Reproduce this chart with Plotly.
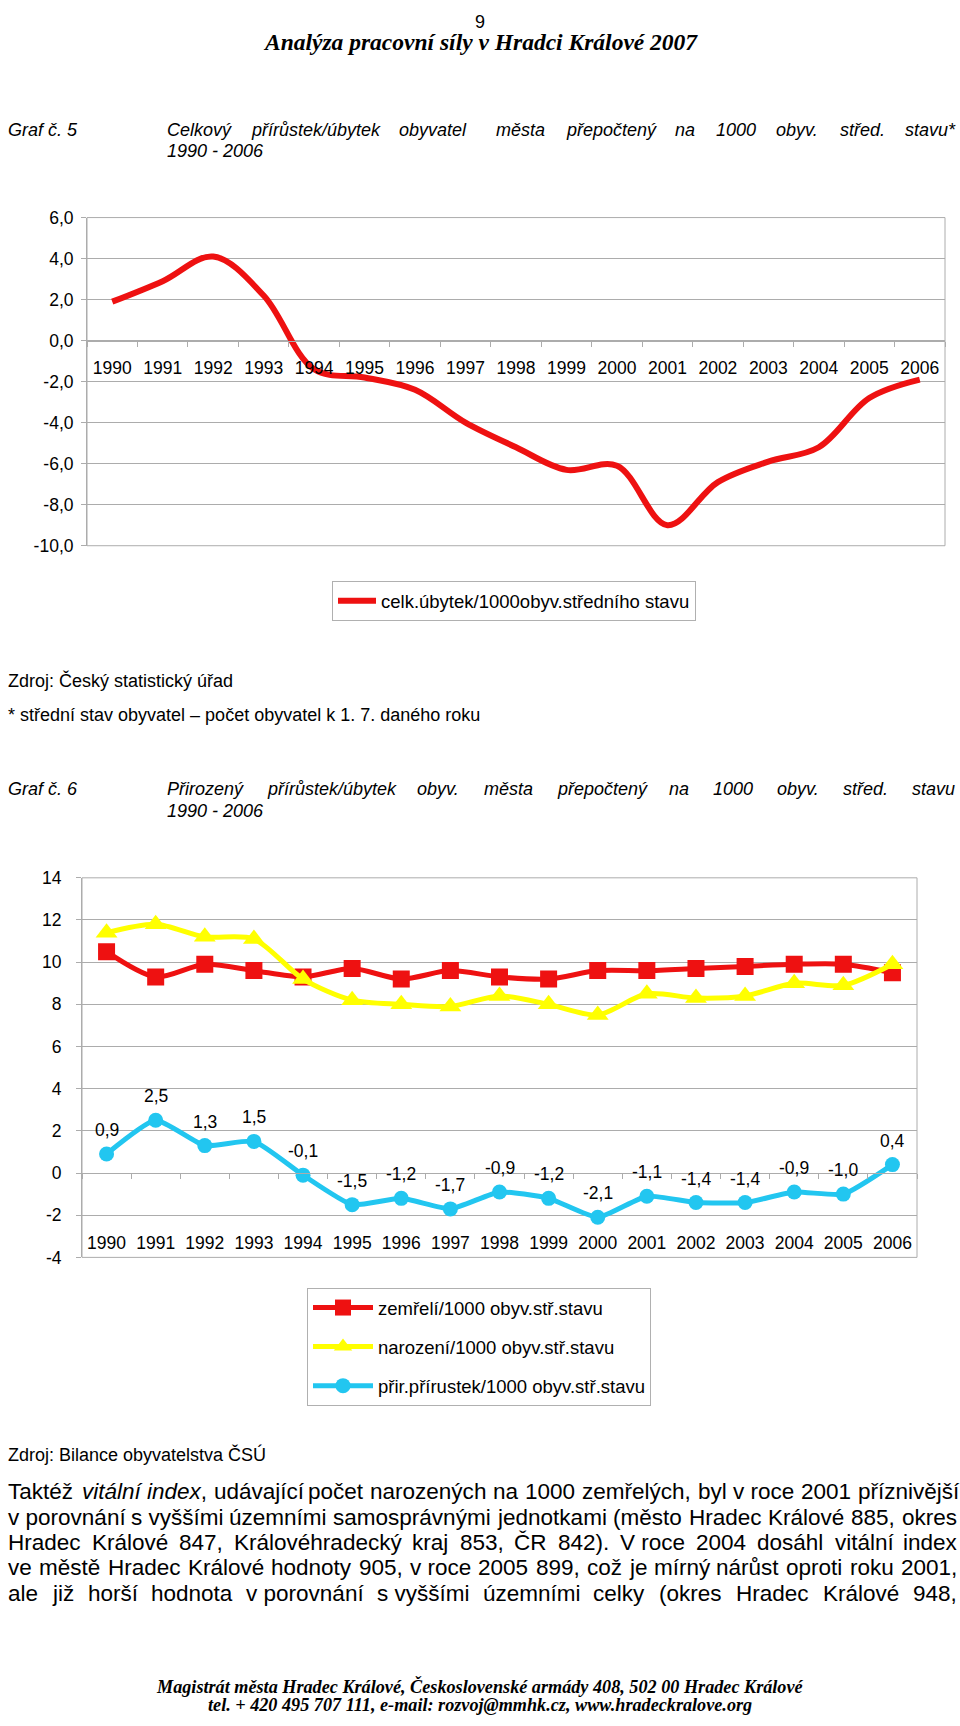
import re
import unicodedata
import plotly.graph_objects as go

# ---------------- data ----------------
years = [str(y) for y in range(1990, 2007)]
celk_ubytek = [1.9, 2.9, 4.1, 2.2, -1.4, -1.8, -2.4, -4.0, -5.2, -6.3, -6.1, -9.0, -6.9, -5.9, -5.2, -2.8, -1.9]
zemreli = [10.5, 9.3, 9.9, 9.6, 9.3, 9.7, 9.2, 9.6, 9.3, 9.2, 9.6, 9.6, 9.7, 9.8, 9.9, 9.9, 9.5]
narozeni = [11.4, 11.8, 11.2, 11.1, 9.2, 8.2, 8.0, 7.9, 8.4, 8.0, 7.5, 8.5, 8.3, 8.4, 9.0, 8.9, 9.9]
prirustek = [0.9, 2.5, 1.3, 1.5, -0.1, -1.5, -1.2, -1.7, -0.9, -1.2, -2.1, -1.1, -1.4, -1.4, -0.9, -1.0, 0.4]

y1_tickvals = [6, 4, 2, 0, -2, -4, -6, -8, -10]
y1_ticktext = ["6,0", "4,0", "2,0", "0,0", "-2,0", "-4,0", "-6,0", "-8,0", "-10,0"]
y2_tickvals = [14, 12, 10, 8, 6, 4, 2, 0, -2, -4]
y2_ticktext = ["14", "12", "10", "8", "6", "4", "2", "0", "-2", "-4"]

name1 = "celk.úbytek/1000obyv.středního stavu"
name_z = "zemřelí/1000 obyv.stř.stavu"
name_n = "narození/1000 obyv.stř.stavu"
name_p = "přir.přírustek/1000 obyv.stř.stavu"

# ---------------- page geometry ----------------
W, H = 960, 1726
SANS = "Liberation Sans, Arial, sans-serif"
SERIF = "Liberation Serif, Times New Roman, serif"
GRID = "#acacac"


def px(x):
    return x / W


def py(y):
    return 1 - y / H


# Arial / Liberation Sans advance widths (1/1000 em)
AW = {' ': 278, '!': 278, '"': 355, '#': 556, '$': 556, '%': 889, '&': 667, "'": 191,
      '(': 333, ')': 333, '*': 389, '+': 584, ',': 278, '-': 333, '.': 278, '/': 278,
      ':': 278, ';': 278, '<': 584, '=': 584, '>': 584, '?': 556, '@': 1015,
      'A': 667, 'B': 667, 'C': 722, 'D': 722, 'E': 667, 'F': 611, 'G': 778, 'H': 722,
      'I': 278, 'J': 500, 'K': 667, 'L': 556, 'M': 833, 'N': 722, 'O': 778, 'P': 667,
      'Q': 778, 'R': 722, 'S': 667, 'T': 611, 'U': 722, 'V': 667, 'W': 944, 'X': 667,
      'Y': 667, 'Z': 611, 'a': 556, 'b': 556, 'c': 500, 'd': 556, 'e': 556, 'f': 278,
      'g': 556, 'h': 556, 'i': 222, 'j': 222, 'k': 500, 'l': 222, 'm': 833, 'n': 556,
      'o': 556, 'p': 556, 'q': 556, 'r': 333, 's': 500, 't': 278, 'u': 556, 'v': 500,
      'w': 722, 'x': 500, 'y': 500, 'z': 500, '\u2013': 556, '\u00a0': 278}
for d in "0123456789":
    AW[d] = 556


def text_width(s, fs):
    s = re.sub(r"<[^>]+>", "", s)
    tot = 0
    for ch in s:
        if ch in AW:
            tot += AW[ch]
        else:
            base = unicodedata.normalize("NFD", ch)[0]
            tot += AW.get(base, 556)
    return tot * fs / 1000.0


annotations = []


def add_text(text, x, y, size=18, family=SANS, anchor="left"):
    annotations.append(dict(text=text, x=px(x), y=py(y), xref="paper", yref="paper",
                            xanchor=anchor, yanchor="middle", showarrow=False,
                            font=dict(family=family, size=size, color="black")))


def justify(line, x0, x1, y, size, italic=False):
    words = line.split(" ")
    ws = [text_width(w, size) for w in words]
    gap = (x1 - x0 - sum(ws)) / (len(words) - 1) if len(words) > 1 else 0
    x = x0
    for w, wd in zip(words, ws):
        add_text(f"<i>{w}</i>" if italic else w, x, y, size)
        x += wd + gap


NB = "\u00a0"

# ---------------- header ----------------
add_text("9", 480, 12, 18, SANS, "center")
add_text("<b><i>Analýza pracovní síly v Hradci Králové 2007</i></b>", 480, 32, 23.5, SERIF, "center")

add_text("<i>Graf č. 5</i>", 6, 121, 18)
justify("Celkový přírůstek/úbytek obyvatel" + NB + NB + " města přepočtený na 1000 obyv. střed. stavu*",
        165, 953, 121, 18, italic=True)
add_text("<i>1990 - 2006</i>", 165, 143, 18)

add_text("Zdroj: Český statistický úřad", 6, 678, 18)
add_text("* střední stav obyvatel \u2013 počet obyvatel k 1. 7. daného roku", 6, 713, 18)

add_text("<i>Graf č. 6</i>", 6, 788, 18)
justify("Přirozený přírůstek/úbytek obyv. města přepočtený na 1000 obyv. střed. stavu",
        165, 953, 788, 18, italic=True)
add_text("<i>1990 - 2006</i>", 165, 810, 18)

add_text("Zdroj: Bilance obyvatelstva ČSÚ", 6, 1461, 18)

para = [
    "Taktéž <i>vitální</i> <i>index</i>, udávající počet narozených na 1000 zemřelých, byl v" + NB + "roce 2001 příznivější",
    "v" + NB + "porovnání s" + NB + "vyššími územními samosprávnými jednotkami (město Hradec Králové 885, okres",
    "Hradec Králové 847, Královéhradecký kraj 853, ČR 842). V" + NB + "roce 2004 dosáhl vitální index",
    "ve městě Hradec Králové hodnoty 905, v" + NB + "roce 2005 899, což je mírný nárůst oproti roku 2001,",
    "ale již horší hodnota v" + NB + "porovnání s" + NB + "vyššími územními celky (okres Hradec Králové 948,",
]
para_y = [1499, 1525, 1550, 1576, 1602]
PX0, PX1 = 6, 955
fs_para = min((PX1 - PX0) / text_width(l, 1.0) for l in para) * 0.995
for l, yy in zip(para, para_y):
    justify(l, PX0, PX1, yy, fs_para)

add_text("<b><i>Magistrát města Hradec Králové, Československé armády 408, 502 00 Hradec Králové</i></b>",
         480, 1696, 18.2, SERIF, "center")
add_text("<b><i>tel. + 420 495 707 111, e-mail: rozvoj@mmhk.cz, www.hradeckralove.org</i></b>",
         480, 1715, 18.2, SERIF, "center")

# ---------------- chart geometry ----------------
C1X = (87, 945)
C1Y = (210, 542)   # top, bottom px
C2X = (82, 917)
C2Y = (878, 1262)

y1_range = [-10, 6]
y2_range = [-4, 14]

d1 = [py(C1Y[1]), py(C1Y[0])]
d2 = [py(C2Y[1]), py(C2Y[0])]
pos1 = d1[0] + (0 - y1_range[0]) / (y1_range[1] - y1_range[0]) * (d1[1] - d1[0])
pos2 = d2[0] + (0 - y2_range[0]) / (y2_range[1] - y2_range[0]) * (d2[1] - d2[0])

RED = "#ee1111"
YEL = "#ffff00"
BLU = "#22c6f0"

fig = go.Figure()

fig.add_trace(go.Scatter(x=years, y=celk_ubytek, mode="lines", name=name1,
                         line=dict(color=RED, width=6, shape="spline", smoothing=1.0),
                         xaxis="x", yaxis="y", legend="legend", showlegend=True))

fig.add_trace(go.Scatter(x=years, y=zemreli, mode="lines+markers", name=name_z,
                         line=dict(color=RED, width=5, shape="spline", smoothing=0.8),
                         marker=dict(symbol="square", size=17, color=RED),
                         xaxis="x2", yaxis="y2", legend="legend2", legendgroup="z"))
fig.add_trace(go.Scatter(x=years, y=narozeni, mode="lines+markers", name=name_n,
                         line=dict(color=YEL, width=5, shape="spline", smoothing=0.8),
                         marker=dict(symbol="triangle-up", size=19, color=YEL),
                         xaxis="x2", yaxis="y2", legend="legend2", legendgroup="n"))
fig.add_trace(go.Scatter(x=years, y=prirustek, mode="lines+markers", name=name_p,
                         line=dict(color=BLU, width=5, shape="spline", smoothing=0.5),
                         marker=dict(symbol="circle", size=15, color=BLU),
                         xaxis="x2", yaxis="y2", legend="legend2", legendgroup="p"))

for i, v in enumerate(prirustek):
    annotations.append(dict(x=i, y=v, xref="x2", yref="y2", text=f"{v:.1f}".replace(".", ","),
                            showarrow=False, yshift=24,
                            font=dict(family=SANS, size=17.5, color="black")))

tickfont = dict(family=SANS, size=17.5, color="black")

xcommon = dict(type="category", range=[-0.5, 16.5], showgrid=False, zeroline=False,
               showline=True, linecolor=GRID, linewidth=1, ticks="outside", ticklen=5,
               tickcolor=GRID, tickson="boundaries", tickfont=tickfont, anchor="free")
ycommon = dict(showgrid=True, gridcolor=GRID, gridwidth=1, zeroline=False, showline=True,
               linecolor=GRID, linewidth=1, ticks="outside", ticklen=5, tickcolor=GRID,
               tickfont=tickfont, fixedrange=True)

fig.update_layout(
    width=W, height=H,
    margin=dict(l=0, r=0, t=0, b=0, pad=0),
    paper_bgcolor="white", plot_bgcolor="white",
    separators=", ",
    showlegend=True,
    xaxis=dict(domain=[px(C1X[0]), px(C1X[1])], position=pos1, ticklabelstandoff=11, **xcommon),
    yaxis=dict(domain=d1, range=y1_range, tickvals=y1_tickvals, ticktext=y1_ticktext,
               anchor="x", ticklabelstandoff=4, **ycommon),
    xaxis2=dict(domain=[px(C2X[0]), px(C2X[1])], position=pos2, ticklabelstandoff=54, **xcommon),
    yaxis2=dict(domain=d2, range=y2_range, tickvals=y2_tickvals, ticktext=y2_ticktext,
                anchor="x2", ticklabelstandoff=11, **ycommon),
    legend=dict(x=px(332), y=py(578), xanchor="left", yanchor="top", bgcolor="white",
                bordercolor="#b0b0b0", borderwidth=1, itemwidth=38,
                font=dict(family=SANS, size=18.5, color="black")),
    legend2=dict(x=px(307), y=py(1293), xanchor="left", yanchor="top", bgcolor="white",
                 bordercolor="#b0b0b0", borderwidth=1, traceorder="grouped", tracegroupgap=12,
                 itemwidth=60, font=dict(family=SANS, size=18.5, color="black")),
    annotations=annotations,
    shapes=[
        dict(type="rect", xref="x domain", yref="y domain", x0=0, x1=1, y0=0, y1=1,
             line=dict(color=GRID, width=1), layer="below"),
        dict(type="rect", xref="x2 domain", yref="y2 domain", x0=0, x1=1, y0=0, y1=1,
             line=dict(color=GRID, width=1), layer="below"),
    ],
)

fig.write_html("out.html", post_script="document.body.style.margin='0';")
